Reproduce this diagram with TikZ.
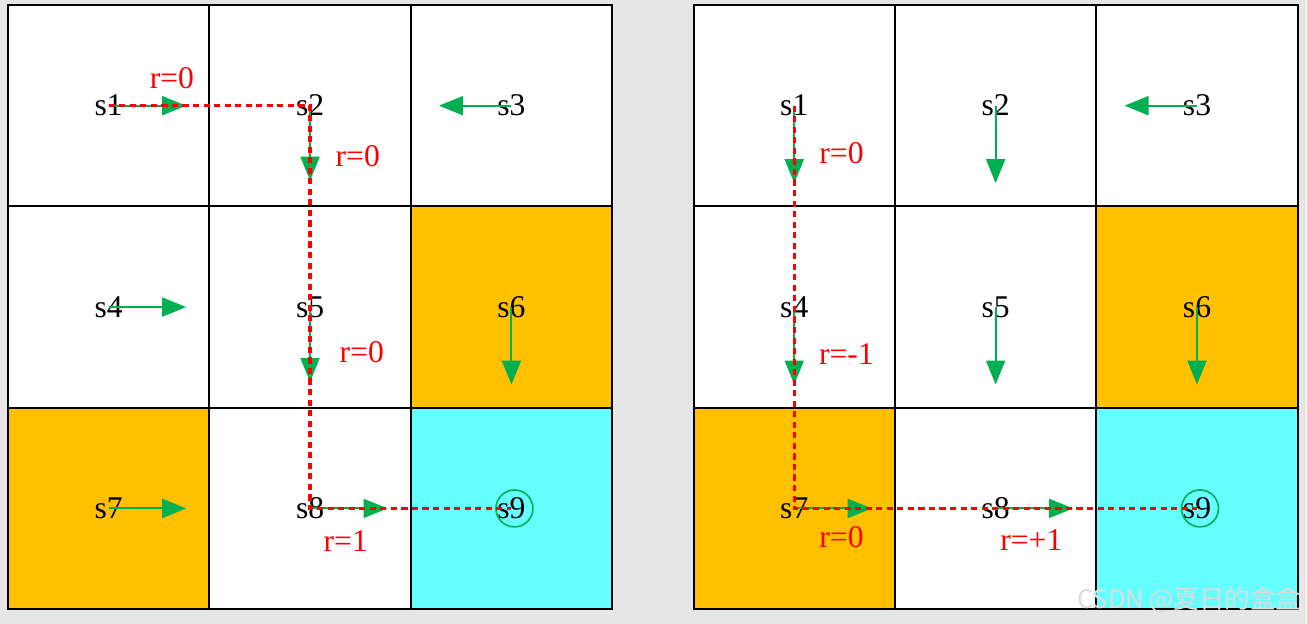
\documentclass[tikz,border=0pt]{standalone}
\usepackage{fontspec}
\setmainfont{Liberation Serif}
\newfontfamily\cjkfont{Noto Sans CJK SC}
\usetikzlibrary{arrows.meta, calc, positioning}
\definecolor{cellorange}{RGB}{255,192,0}
\definecolor{cellcyan}{RGB}{102,255,255}
\definecolor{polgreen}{RGB}{0,176,80}
\definecolor{pagegray}{RGB}{230,230,230}
\definecolor{markgray}{RGB}{220,220,220}

\begin{document}
\begin{tikzpicture}[
  cell/.style={draw=black, line width=1.1pt, minimum size=4.03cm,
               inner sep=0pt, font=\fontsize{18}{20}\selectfont},
  pol/.style={polgreen, line width=1.2pt,
              -{Triangle[length=0.48cm, width=0.38cm]}},
  trail/.style={red, line width=2pt, dash pattern=on 3.5pt off 2.5pt},
  rew/.style={red, font=\fontsize{18}{20}\selectfont},
  goal/.style={circle, draw=polgreen, line width=0.9pt, minimum size=0.74cm}
]
  % page
  \fill[pagegray] (0,0) rectangle (26.14,-12.48);

  % the two grid worlds
  \foreach \g/\xo in {L/0.16, R/13.88}
    \foreach \n/\c/\r/\f in {1/0/0/white, 2/1/0/white, 3/2/0/white,
                             4/0/1/white, 5/1/1/white, 6/2/1/cellorange,
                             7/0/2/cellorange, 8/1/2/white, 9/2/2/cellcyan}
      \node[cell, fill=\f] (\g\n)
        at ({\xo+(\c+0.5)*4.03}, {-0.1-(\r+0.5)*4.03}) {s\n};

  % policy arrows
  \foreach \s/\dx/\dy in {L1/1.55/0, L2/0/-1.5, L3/-1.45/0,
                          L4/1.55/0, L5/0/-1.5, L6/0/-1.55,
                          L7/1.55/0, L8/1.55/0,
                          R1/0/-1.55, R2/0/-1.55, R3/-1.45/0,
                          R4/0/-1.55, R5/0/-1.55, R6/0/-1.55,
                          R7/1.55/0, R8/1.55/0} {
    \coordinate (\s-tip) at ($(\s.center)+(\dx,\dy)$);
    \draw[pol] (\s.center) -- (\s-tip);
  }
  \node[goal] (L9stay) at ($(L9.center)+(0.06,0)$) {};
  \node[goal] (R9stay) at ($(R9.center)+(0.06,0)$) {};

  % sampled trajectories
  \draw[trail] (L1.center) -- (L2.center) -- (L8.center) -- (L9.center);
  \draw[trail] (R1.center) -- (R7.center) -- (R9.center);

  % rewards
  \node[rew] (rL1) at (3.44,-1.56) {r=0};
  \node[rew] (rL2) at (7.16,-3.12) {r=0};
  \node[rew] (rL5) at (7.24,-7.04) {r=0};
  \node[rew] (rL8) at (6.92,-10.82) {r=1};
  \node[rew] (rR1) at (16.84,-3.06) {r=0};
  \node[rew] (rR4) at (16.94,-7.08) {r=-1};
  \node[rew] (rR7) at (16.84,-10.74) {r=0};
  \node[rew] (rR8) at (20.64,-10.8) {r=+1};

  % watermark
  \node[markgray, font=\cjkfont\fontsize{14.5}{16}\selectfont]
    (mark) at (23.8,-12.0) {CSDN @夏日的盒盒};
\end{tikzpicture}
\end{document}
